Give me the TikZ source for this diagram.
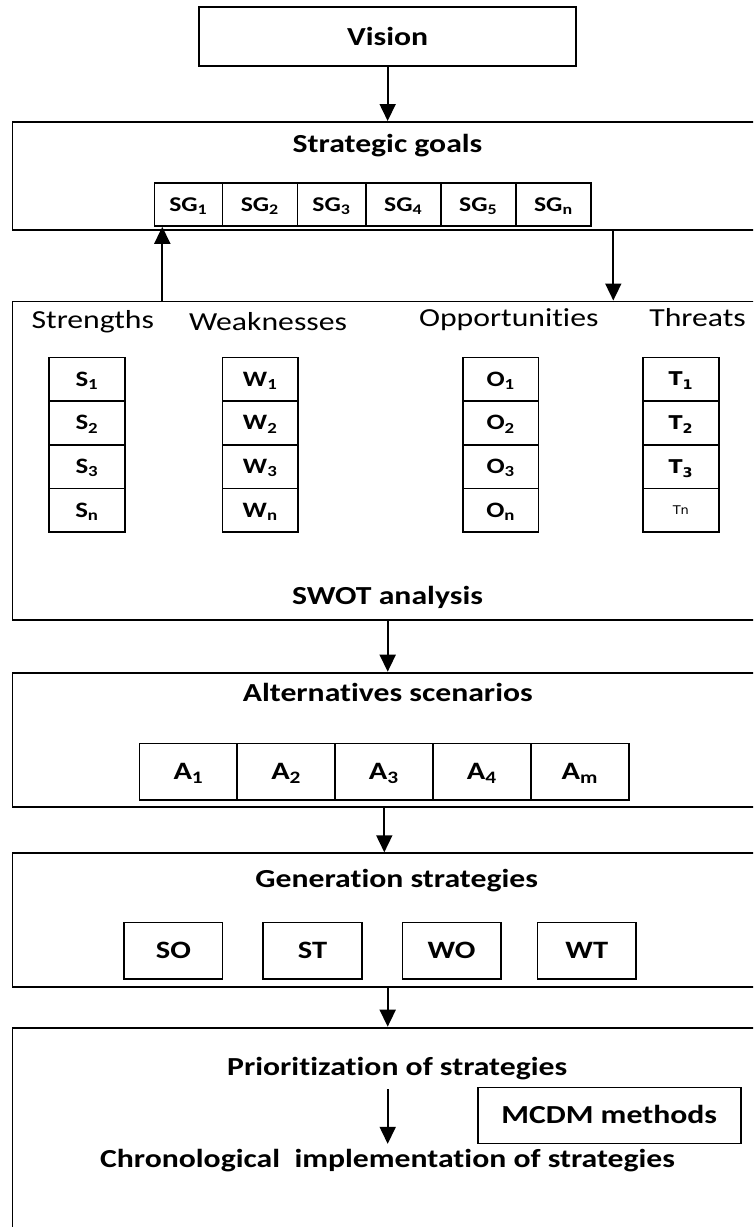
\documentclass[tikz,border=0pt]{standalone}
\usepackage{fontspec}
\setmainfont{Carlito}[FakeStretch=1.22, Ligatures=NoCommon]
\newfontfamily\dvsans{DejaVu Sans}[FakeStretch=1.08]
\usetikzlibrary{arrows.meta}
\newcommand\mytitle{\fontsize{26}{30}\selectfont\bfseries}
\newcommand\mylabel{\fontsize{26}{30}\selectfont}
\begin{document}
\begin{tikzpicture}[x=1pt,y=-1pt,
  bigbox/.style={draw, line width=1.8pt, inner sep=0pt, anchor=north west, minimum width=748.5pt},
  ttl/.style={font=\mytitle, inner sep=0pt, anchor=base},
  swotlbl/.style={font=\mylabel, inner sep=0pt, anchor=base},
  cellbox/.style={draw, line width=1.6pt, inner sep=0pt, text depth=0pt},
  sgcell/.style={cellbox, minimum height=43.3pt, font=\fontsize{21}{24}\selectfont\bfseries, text height=13.5pt},
  swcell/.style={cellbox, minimum width=75.7pt, minimum height=43.7pt, font=\fontsize{22}{25}\selectfont\bfseries, text height=14.2pt},
  tcell/.style={cellbox, minimum width=75.7pt, minimum height=43.7pt, font=\dvsans\fontsize{19}{22}\selectfont\bfseries, text height=13.5pt},
  acell/.style={cellbox, minimum width=97.9pt, minimum height=56.7pt, font=\fontsize{25}{28}\selectfont\bfseries, text height=16pt},
  gcell/.style={cellbox, minimum width=98.5pt, minimum height=56.7pt, font=\fontsize{25}{28}\selectfont\bfseries, text height=16pt},
  arr/.style={line width=1.7pt, -{Triangle[width=16pt,length=17pt]}}]
\useasboundingbox (0,0) rectangle (753,1227);
\clip (0,0) rectangle (753,1227);

% Vision
\node[draw, line width=1.8pt, inner sep=0pt, minimum width=376.7pt, minimum height=58.7pt,
      font=\mytitle, text height=16.7pt, text depth=0pt] (vision) at (387.65,36.65) {Vision};

% Strategic goals
\node[bigbox, minimum height=108pt] (sg) at (11.5,121) {};
\node[ttl] (sgt) at (387.5,152.7) {Strategic goals};
\node[sgcell, minimum width=68pt]   (sg1) at (188.3,204.35) {SG\textsubscript{1}};
\node[sgcell, minimum width=75pt]   (sg2) at (259.8,204.35) {SG\textsubscript{2}};
\node[sgcell, minimum width=68.4pt] (sg3) at (331.5,204.35) {SG\textsubscript{3}};
\node[sgcell, minimum width=75pt]   (sg4) at (403.2,204.35) {SG\textsubscript{4}};
\node[sgcell, minimum width=75pt]   (sg5) at (478.2,204.35) {SG\textsubscript{5}};
\node[sgcell, minimum width=75.3pt] (sgn) at (553.35,204.35) {SG\textsubscript{n}};

% SWOT
\node[bigbox, minimum height=318.5pt] (swot) at (11.5,300.5) {};
\node[swotlbl] (lS) at (92.8,328.3) {Strengths};
\node[swotlbl] (lW) at (268,330.7) {Weaknesses};
\node[swotlbl] (lO) at (508.8,326.7) {Opportunities};
\node[swotlbl] (lT) at (697.6,326.7) {Threats};

\foreach \c/\x in {S/86.9, W/260.15, O/500.65}{
  \node[swcell] (\c1) at (\x,379.15) {\c\textsubscript{1}};
  \node[swcell] (\c2) at (\x,422.85) {\c\textsubscript{2}};
  \node[swcell] (\c3) at (\x,466.55) {\c\textsubscript{3}};
  \node[swcell] (\c n) at (\x,510.25) {\c\textsubscript{n}};
}
\node[tcell] (T1) at (680.85,379.15) {T\textsubscript{1}};
\node[tcell] (T2) at (680.85,422.85) {T\textsubscript{2}};
\node[tcell] (T3) at (680.85,466.55) {T\textsubscript{3}};
\node[cellbox, minimum width=75.7pt, minimum height=43.7pt, font=\dvsans\fontsize{12}{14}\selectfont, text height=8.5pt] (Tn) at (680.85,510.25) {Tn};
\node[ttl] (swott) at (387.5,604) {SWOT analysis};

% Alternatives
\node[bigbox, minimum height=134.3pt] (alt) at (11.5,671.7) {};
\node[ttl] (altt) at (387.8,701.7) {Alternatives scenarios};
\node[acell] (A1) at (188.4,771.65) {A\textsubscript{1}};
\node[acell] (A2) at (286.15,771.65) {A\textsubscript{2}};
\node[acell] (A3) at (383.85,771.65) {A\textsubscript{3}};
\node[acell] (A4) at (481.7,771.65) {A\textsubscript{4}};
\node[acell] (Am) at (579.85,771.65) {A\textsubscript{m}};

% Generation strategies
\node[bigbox, minimum height=134pt] (gen) at (11.5,852.3) {};
\node[ttl] (gent) at (396.7,887.3) {Generation strategies};
\node[gcell] (SO) at (173.35,950.65) {SO};
\node[gcell] (ST) at (312.5,950.65) {ST};
\node[gcell] (WO) at (451.65,950.65) {WO};
\node[gcell] (WT) at (586.85,950.65) {WT};

% Prioritization
\node[bigbox, minimum height=214pt] (last) at (11.5,1026.7) {};
\node[ttl] (prio) at (397.2,1075.7) {Prioritization of strategies};
\node[ttl] (chrono) at (387.5,1167.3) {Chronological\ \ implementation of strategies};
\node[draw, line width=1.6pt, inner sep=0pt, minimum width=263pt, minimum height=56pt,
      font=\mytitle, text height=16.7pt, text depth=0pt] (mcdm) at (609.2,1115.3) {MCDM methods};

% connectors
\coordinate (xup) at (162.3,0);
\coordinate (xdn) at (613.3,0);
\coordinate (xc) at (387.7,0);
\coordinate (xa) at (384.3,0);
\draw[arr] (vision.south) -- (vision.south |- sg.north);
\draw[arr] (xup |- swot.north) -- (xup |- sg1.south);
\draw[arr] (xdn |- sg.south) -- (xdn |- swot.north);
\draw[arr] (xc |- swot.south) -- (xc |- alt.north);
\draw[arr] (xa |- alt.south) -- (xa |- gen.north);
\draw[arr] (xc |- gen.south) -- (xc |- last.north);
\draw[arr, shorten <=9pt, shorten >=5pt] (xc |- prio.south) -- (xc |- chrono.north);
\end{tikzpicture}
\end{document}
